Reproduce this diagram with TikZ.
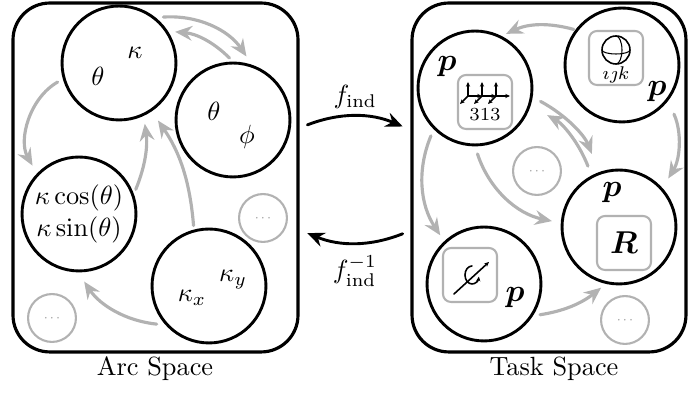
\documentclass[tikz,border=0pt]{standalone}
\usepackage{amsmath}
\usetikzlibrary{arrows.meta}
\begin{document}
\begin{tikzpicture}[x=0.38pt,y=-0.38pt,line join=round,line cap=round,
  >={Stealth[length=6.5pt,width=5.6pt,inset=2.2pt]},
  spacebox/.style={draw,line width=1.2pt,rounded corners=14pt,inner sep=0pt},
  setcirc/.style={circle,draw,line width=1.1pt,minimum size=43.3pt,inner sep=0pt},
  morecirc/.style={circle,draw=black!30,line width=0.8pt,minimum size=18.2pt,inner sep=0pt,text=black!35,font=\tiny},
  iconbox/.style={draw=black!30,line width=0.8pt,rounded corners=3pt,minimum width=20.5pt,minimum height=20.5pt,inner sep=0pt},
  graylink/.style={->,draw=black!30,line width=1.2pt},
  maplink/.style={->,line width=1.1pt,shorten <=3.2pt,shorten >=3.2pt},
  icontip/.style={-{Stealth[length=1.8pt,width=1.6pt]},line width=0.4pt}]
\useasboundingbox (0,0) rectangle (688,393);

% the two spaces
\node[spacebox,minimum width=108.3pt,minimum height=132.6pt] (arc) at (155.5,177.5) {};
\node[spacebox,minimum width=104.1pt,minimum height=132.6pt] (task) at (549,177.5) {};
\node (arclbl) at (155,369) {Arc Space};
\node (tasklbl) at (554,369) {Task Space};

% maps between them
\draw[maplink] (arc.19.5) to[bend left=22] node[above=-1pt] (fwd) {$f_{\text{ind}}$} (task.161);
\draw[maplink] (task.201.5) to[bend left=22] node[below=1pt] (bwd) {$f^{-1}_{\text{ind}}$} (arc.-20);

% arc space
\node[setcirc] (kt) at (119,63) {};
\node[setcirc] (tp) at (233,120) {};
\node[setcirc,align=center] (cs) at (79,214) {$\kappa\cos(\theta)$\\$\kappa\sin(\theta)$};
\node[setcirc] (kxy) at (209,286) {};
\node[morecirc] (arcmore1) at (263,218) {${\cdot}{\cdot}{\cdot}$};
\node[morecirc] (arcmore2) at (52,318) {${\cdot}{\cdot}{\cdot}$};
\node (ktt) at (98,76) {$\theta$};
\node (ktk) at (135,53) {$\kappa$};
\node (tpt) at (214,111) {$\theta$};
\node (tpp) at (247,137) {$\phi$};
\node (kxyy) at (233,280) {$\kappa_y$};
\node (kxyx) at (192,298) {$\kappa_x$};

% task space
\node[setcirc] (eul) at (475,88) {};
\node[setcirc] (quat) at (622,65) {};
\node[setcirc] (rot) at (619,227) {};
\node[setcirc] (axa) at (484,284) {};
\node[morecirc] (taskmore1) at (537,171) {${\cdot}{\cdot}{\cdot}$};
\node[morecirc] (taskmore2) at (625,320) {${\cdot}{\cdot}{\cdot}$};
\node[iconbox] (eulbox) at (485,102) {};
\node[iconbox] (quatbox) at (616,58) {};
\node[iconbox] (rotbox) at (624,243) {\large$\boldsymbol{R}$};
\node[iconbox] (axabox) at (470,275) {};
\foreach \n/\x/\y in {peul/447/67,pquat/657/92,prot/612/193,paxa/515/298}
  \node (\n) at (\x,\y) {\large$\boldsymbol{p}$};

% 313 frames
\foreach \ox in {-17,-3,11}{
  \draw[icontip] (485+\ox,96) -- ++(0,-14);
  \draw[icontip] (485+\ox,96) -- ++(14,0);
  \draw[icontip,line width=0.6pt] (485+\ox,96) -- ++(-8,8);
}
\node[font=\scriptsize] (eultxt) at (485,115) {313};
% unit sphere
\draw[line width=0.6pt] (616,50) circle (14);
\draw[line width=0.4pt] (602,50) arc[start angle=180,end angle=0,x radius=14,y radius=4];
\draw[line width=0.4pt] (616,36) arc[start angle=-90,end angle=90,x radius=6,y radius=14];
\node[font=\scriptsize] (quattxt) at (616,75) {$\imath\jmath k$};
% axis and angle
\draw[icontip,line width=0.6pt] (454,294) -- (489,262);
\draw[icontip,line width=0.6pt] (472,266) arc[start angle=270,end angle=10,x radius=7,y radius=9];

% conversions
\foreach \s/\sa/\t/\ta/\bd/\ss/\st in {
  kt/51/tp/71/30/2.9/3.8,
  tp/90/kt/33/-20/1.9/2.7,
  kt/196/cs/136/-45/2.3/3.4,
  cs/20/kt/-65/-15/1.9/3,
  kxy/105/kt/-56/-15/1.5/4.2,
  kxy/222/cs/269/25/3.4/4.2,
  quat/143/eul/63/-20/0.6/1.9,
  quat/-38/rot/42/28/5.5/4.2,
  eul/-9/rot/110/20/3.4/7.4,
  rot/118/eul/-18/-20/3.8/7.2,
  eul/225/axa/133/-28/2.7/2.7,
  eul/270/rot/176/-30/3/3.4,
  axa/-33/rot/257/-15/2.7/2.3}
  \draw[graylink,shorten <=\ss pt,shorten >=\st pt] (\s.\sa) to[bend left=\bd] (\t.\ta);
\end{tikzpicture}
\end{document}
